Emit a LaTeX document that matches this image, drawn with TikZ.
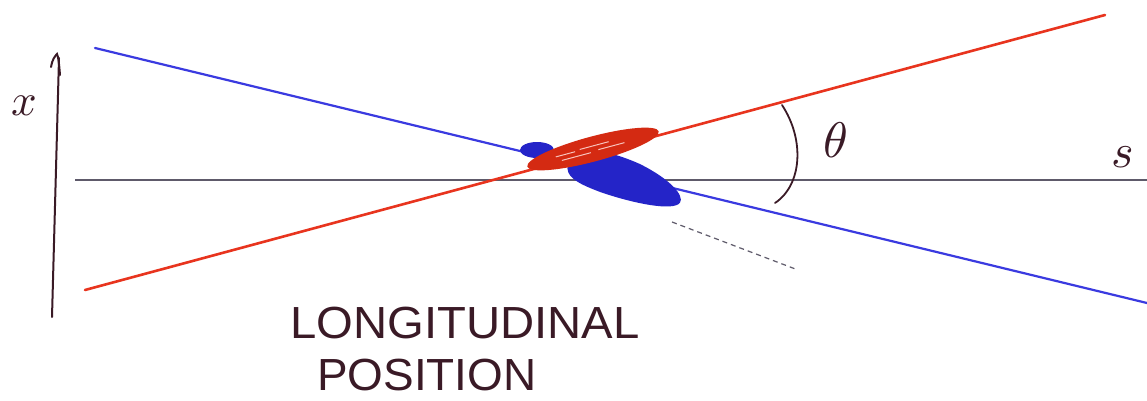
\documentclass[tikz,border=0pt]{standalone}
\usepackage{fontspec}
\newfontfamily\handfont{Liberation Sans}
\definecolor{redln}{HTML}{E8341E}
\definecolor{redfill}{HTML}{D42A12}
\definecolor{blueln}{HTML}{3A3AE0}
\definecolor{bluefill}{HTML}{2424C8}
\definecolor{ink}{HTML}{3A1A26}
\definecolor{axisgray}{HTML}{5E5A6A}
\begin{document}
\begin{tikzpicture}[x=1pt,y=-1pt,
  redline/.style={draw=redln,line width=2.6pt,line cap=round},
  blueline/.style={draw=blueln,line width=2.2pt,line cap=round},
  axisline/.style={draw=ink,line width=2pt,line cap=round},
  sline/.style={draw=axisgray,line width=2pt},
  lbl/.style={text=ink,inner sep=0pt},
  hand/.style={text=ink,inner sep=0pt,anchor=base west,font=\handfont\fontsize{45}{50}\selectfont}]
\fill[white] (0,0) rectangle (1147,401);
\useasboundingbox (0,0) rectangle (1147,401);
% horizontal s axis
\coordinate (s0) at (75,180);
\coordinate (s1) at (1147,180);
\draw[sline] (s0) -- (s1);
% vertical x axis with hand-drawn arrowhead
\coordinate (v0) at (52,317);
\coordinate (v1) at (59,58);
\draw[axisline] (v0) -- (v1);
\draw[axisline] (60,75) .. controls (59,62) and (58,56) .. (57,54) .. controls (55,56) and (52,60) .. (51,67);
% blue and red lines
\coordinate (b0) at (95,48);
\coordinate (b1) at (1147,303);
\coordinate (r0) at (85,290);
\coordinate (r1) at (1105,15);
\draw[blueline] (b0) -- (b1);
\draw[redline] (r0) -- (r1);
% blue blobs
\fill[bluefill] (537,150) ellipse [x radius=17pt, y radius=8pt];
\fill[bluefill,rotate around={-14:(622,179)}]
  (566,178) .. controls (566,156) and (600,154) .. (635,160)
  .. controls (668,167) and (687,180) .. (684,188)
  .. controls (680,198) and (640,200) .. (605,197)
  .. controls (578,194) and (566,190) .. (566,178) -- cycle;
% red ellipse
\fill[redfill,rotate around={15:(593,149)}] (593,149) ellipse [x radius=68pt, y radius=12.5pt];
\draw[white!70!redln,line width=1pt,rotate around={15:(593,149)}] (555,147) -- (575,147) (580,146) -- (610,146) (560,152) -- (590,152) (598,151) -- (625,151);
% angle arc
\draw[axisline,line width=1.8pt] (782,105) .. controls (805,140) and (802,185) .. (775,203);
% dashed line
\coordinate (d0) at (672,222);
\coordinate (d1) at (798,270);
\draw[axisgray,line width=1.2pt,dash pattern=on 5pt off 4pt] (d0) -- (d1);
% labels
\node[lbl] (xl) at (24,106) {\scalebox{4.5}{$x$}};
\node[lbl] (sl) at (1123,157) {\scalebox{4.8}{$s$}};
\node[lbl] (th) at (836,140) {\scalebox{5}{$\theta$}};
\node[hand,xscale=1.05] (t1) at (290,338) {LONGITUDINAL};
\node[hand,xscale=1.02] (t2) at (317,390) {POSITION};
\end{tikzpicture}
\end{document}
